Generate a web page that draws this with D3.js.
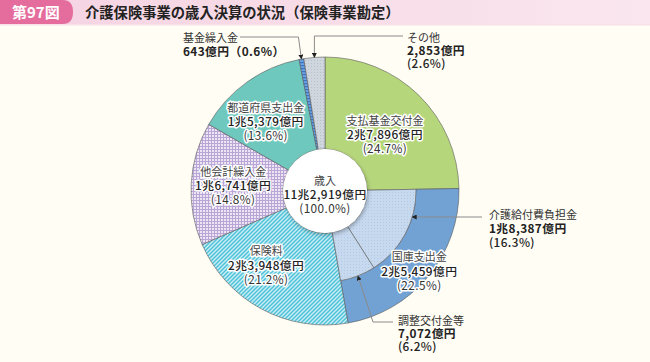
<!DOCTYPE html>
<html>
<head>
<meta charset="utf-8">
<script src="https://cdn.jsdelivr.net/npm/d3@7"></script>
<style>
  html, body { margin: 0; padding: 0; background: #fffdf4; }
  svg { display: block; font-family: "Noto Sans CJK JP", "Noto Sans", sans-serif; }
</style>
</head>
<body>
<div id="chart"></div>
<script>
// 歳入の内訳（億円）
var categories = ["支払基金交付金", "国庫支出金", "保険料", "他会計繰入金", "都道府県支出金", "基金繰入金", "その他"];
var values = [27896, 25459, 23948, 16741, 15379, 643, 2853];
var percents = ["24.7", "22.5", "21.2", "14.8", "13.6", "0.6", "2.6"];

// 国庫支出金の内訳
var subCategories = ["介護給付費負担金", "調整交付金等"];
var subValues = [18387, 7072];
var subPercents = ["16.3", "6.2"];

var totalLabel = "歳入";
var totalValue = 112919;
var totalPercent = "100.0";

var title = "介護保険事業の歳入決算の状況（保険事業勘定）";
var figNo = "第97図";

// サイズ
var width = 650, height = 362;
var cx = 325, cy = 191;
var r0 = 42, rMid = 91, r1 = 134;
var lh = 14;

var svg = d3.select("#chart").append("svg")
  .attr("width", width)
  .attr("height", height);

var defs = svg.append("defs");

// 模様
function pattern(id, size, bg, draw) {
  var p = defs.append("pattern")
    .attr("id", id)
    .attr("patternUnits", "userSpaceOnUse")
    .attr("width", size).attr("height", size);
  p.append("rect").attr("width", size).attr("height", size).attr("fill", bg);
  draw(p);
}
pattern("hatch", 4, "#c8edf4", function (p) {
  p.append("path").attr("d", "M-1,1 l2,-2 M0,4 l4,-4 M3,5 l2,-2")
    .attr("stroke", "#4cc1d9").attr("stroke-width", 1.4);
});
pattern("checks", 3, "#ece6f4", function (p) {
  p.append("rect").attr("width", 3).attr("height", 1).attr("fill", "#b9a6d6");
  p.append("rect").attr("width", 1).attr("height", 3).attr("fill", "#b9a6d6");
});
pattern("dotsBlue", 3, "#c6d9ef", function (p) {
  p.append("rect").attr("x", 1).attr("y", 1).attr("width", 1).attr("height", 1).attr("fill", "#b3c9e6");
});
pattern("dotsGray", 3, "#d0d6dd", function (p) {
  p.append("rect").attr("x", 1).attr("y", 1).attr("width", 1).attr("height", 1).attr("fill", "#b9c1ca");
});
pattern("stripeBlue", 3, "#6fa3e0", function (p) {
  p.append("rect").attr("width", 3).attr("height", 1.2).attr("fill", "#3a74c6");
});

var fills = ["#b6d67c", "#72a2d4", "url(#hatch)", "url(#checks)", "#6fc8bd", "url(#stripeBlue)", "url(#dotsGray)"];
var subFills = ["url(#dotsBlue)", "url(#dotsBlue)"];

// 影
var shadow = defs.append("filter").attr("id", "shadow")
  .attr("x", "-30%").attr("y", "-30%").attr("width", "160%").attr("height", "160%");
shadow.append("feDropShadow").attr("dx", 1).attr("dy", 2).attr("stdDeviation", 2)
  .attr("flood-color", "#000").attr("flood-opacity", 0.3);

// 矢印
defs.append("marker").attr("id", "arrow")
  .attr("viewBox", "0 0 10 10").attr("refX", 9).attr("refY", 5)
  .attr("markerWidth", 5).attr("markerHeight", 5)
  .attr("orient", "auto")
  .append("path").attr("d", "M0,0 L10,5 L0,10 Z").attr("fill", "#222");

// タイトル
var grad = defs.append("linearGradient").attr("id", "titleBg");
grad.append("stop").attr("offset", "0%").attr("stop-color", "#f5d3e2");
grad.append("stop").attr("offset", "100%").attr("stop-color", "#fae6ee");
svg.append("rect").attr("width", width).attr("height", 24).attr("fill", "url(#titleBg)");
svg.append("rect").attr("y", 24).attr("width", width).attr("height", 1.5).attr("fill", "#f8e2ea");
svg.append("path").attr("d", "M0,0 H63 Q73,0 73,12 Q73,24 63,24 H0 Z").attr("fill", "#e56d9d");
svg.append("text").attr("x", 12).attr("y", 18)
  .attr("fill", "#fff").style("font-size", "15px").style("font-weight", "bold")
  .text(figNo);
svg.append("text").attr("x", 85).attr("y", 18)
  .attr("fill", "#222").style("font-size", "14.3px").style("font-weight", "bold")
  .text(title);

// 円グラフ
var pie = d3.pie().sort(null).value(function (d) { return d; });
var arcs = pie(values);
var subArcs = d3.pie().sort(null).value(function (d) { return d; })
  .startAngle(arcs[1].startAngle).endAngle(arcs[1].endAngle)(subValues);

var g = svg.append("g").attr("transform", "translate(" + cx + "," + cy + ")");

var arc = d3.arc();
g.selectAll("path.outer")
  .data(arcs)
  .enter().append("path")
  .attr("class", "outer")
  .attr("d", function (d, i) {
    return arc({innerRadius: i === 1 ? rMid : r0, outerRadius: r1, startAngle: d.startAngle, endAngle: d.endAngle});
  })
  .attr("fill", function (d, i) { return fills[i]; })
  .attr("stroke", "#5a5a5a").attr("stroke-width", 0.6);

g.selectAll("path.inner")
  .data(subArcs)
  .enter().append("path")
  .attr("class", "inner")
  .attr("d", function (d) {
    return arc({innerRadius: r0, outerRadius: rMid, startAngle: d.startAngle, endAngle: d.endAngle});
  })
  .attr("fill", function (d, i) { return subFills[i]; })
  .attr("stroke", "#5a5a5a").attr("stroke-width", 0.6);

g.append("circle").attr("r", r0).attr("fill", "#fff").attr("filter", "url(#shadow)");

// 金額の書式
function yen(v) {
  var cho = Math.floor(v / 10000), oku = v % 10000;
  if (cho > 0) return cho + "兆" + d3.format(",")(oku) + "億円";
  return d3.format(",")(v) + "億円";
}

function pos(a, r) { return [r * Math.sin(a), -r * Math.cos(a)]; }

// ラベル（名前は11px、金額・割合は少し大きく字間を広げる）
function block(parent, x, y, lines, anchor, halo, step) {
  var s = step || lh;
  var t = parent.append("g").attr("transform", "translate(" + x + "," + y + ")");
  lines.forEach(function (ln, k) {
    var el = t.append("text")
      .attr("y", k * s)
      .attr("dy", "0.35em")
      .attr("text-anchor", anchor)
      .attr("fill", ln.c)
      .style("font-size", k === 0 ? "11px" : "11.8px")
      .style("letter-spacing", k === 0 ? "0px" : "0.4px")
      .style("font-weight", ln.w)
      .text(ln.s);
    if (halo) {
      el.attr("stroke", "#fff").attr("stroke-width", 3).attr("stroke-linejoin", "round")
        .style("paint-order", "stroke");
    }
  });
}

// 内側ラベルの位置調整（半径, 角度のずれ）
var inner = {0: [82, 2.5], 1: [124, 1], 2: [95, 10], 3: [92, 0], 4: [91, -5]};
d3.range(5).forEach(function (i) {
  var d = arcs[i];
  var a = (d.startAngle + d.endAngle) / 2 + inner[i][1] * Math.PI / 180;
  var p = pos(a, inner[i][0]);
  block(g, p[0], p[1] - lh, [
    {s: categories[i], c: "#444", w: "normal"},
    {s: yen(values[i]), c: "#222", w: 500},
    {s: "(" + percents[i] + "%)", c: "#333", w: "normal"}
  ], "middle", true);
});

block(g, 0, 4 - 13.5, [
  {s: totalLabel, c: "#444", w: "normal"},
  {s: yen(totalValue), c: "#222", w: 500},
  {s: "(" + totalPercent + "%)", c: "#333", w: "normal"}
], "middle", false, 13.5);

// 引出線
var lead = g.append("g").attr("fill", "none").attr("stroke", "#8a8a8a").attr("stroke-width", 1);
function leader(pts) {
  lead.append("path").attr("d", d3.line()(pts)).attr("marker-end", "url(#arrow)");
}

// 基金繰入金
var aK = (arcs[5].startAngle + arcs[5].endAngle) / 2;
var pK = pos(aK, r1);
leader([[240 - cx, 37 - cy], [pK[0] - 3, 37 - cy], pK]);
block(g, 183 - cx, 38 - cy, [
  {s: categories[5], c: "#333", w: "normal"},
  {s: yen(values[5]) + "（" + percents[5] + "%）", c: "#222", w: "bold"}
], "start", false);

// その他
var aS = (arcs[6].startAngle + arcs[6].endAngle) / 2;
var pS = pos(aS, r1);
leader([[403 - cx, 36 - cy], [pS[0], 36 - cy], pS]);
block(g, 407 - cx, 38 - cy, [
  {s: categories[6], c: "#333", w: "normal"},
  {s: yen(values[6]), c: "#222", w: "bold"},
  {s: "(" + percents[6] + "%)", c: "#222", w: 500}
], "start", false, 13);

// 介護給付費負担金
var yA = 217 - cy;
leader([[482 - cx, yA], [Math.sqrt(rMid * rMid - yA * yA), yA]]);
block(g, 489 - cx, 215 - cy, [
  {s: subCategories[0], c: "#333", w: "normal"},
  {s: yen(subValues[0]), c: "#222", w: "bold"},
  {s: "(" + subPercents[0] + "%)", c: "#222", w: 500}
], "start", false);

// 調整交付金等
var aC = (subArcs[1].startAngle + subArcs[1].endAngle) / 2;
var pC = pos(aC, rMid);
leader([[393 - cx, 322 - cy], [373 - cx, 322 - cy], pC]);
block(g, 398 - cx, 321 - cy, [
  {s: subCategories[1], c: "#333", w: "normal"},
  {s: yen(subValues[1]), c: "#222", w: "bold"},
  {s: "(" + subPercents[1] + "%)", c: "#222", w: 500}
], "start", false, 13);
</script>
</body>
</html>
